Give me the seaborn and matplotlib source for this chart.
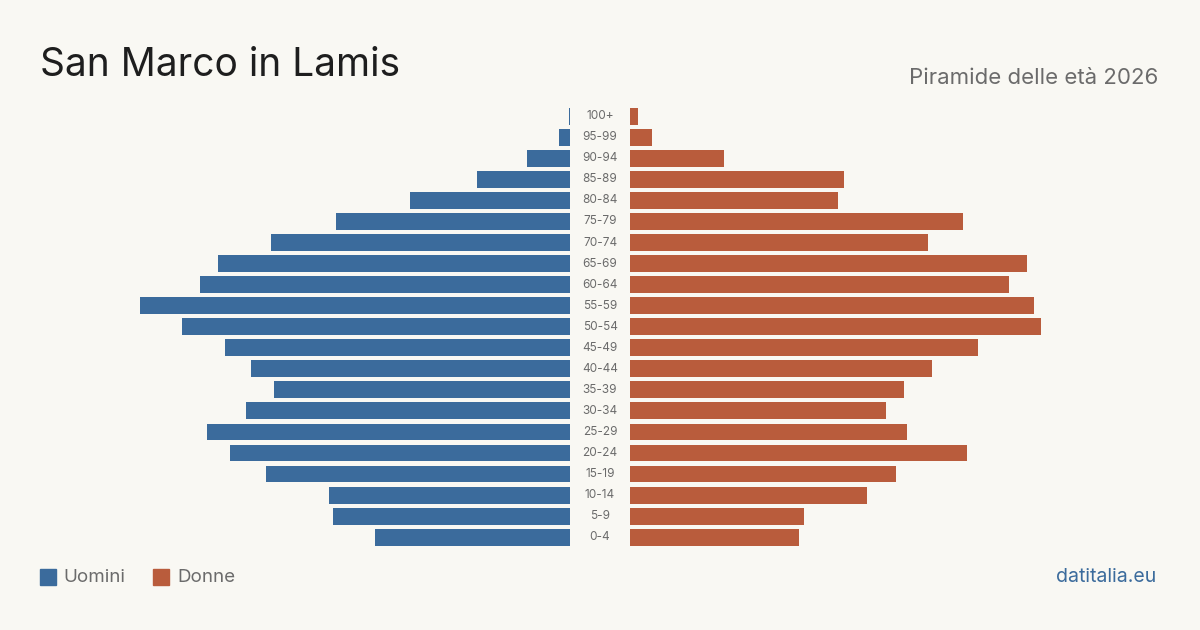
import pandas as pd
import seaborn as sns
import matplotlib.pyplot as plt
from matplotlib.patches import Rectangle

# Dati della piramide (valori stimati dal grafico)
classi = ['100+', '95-99', '90-94', '85-89', '80-84', '75-79', '70-74',
          '65-69', '60-64', '55-59', '50-54', '45-49', '40-44', '35-39',
          '30-34', '25-29', '20-24', '15-19', '10-14', '5-9', '0-4']
uomini = [1, 11, 43, 93, 160, 234, 299, 352, 370, 430, 388, 345, 319, 296,
          324, 363, 340, 304, 241, 237, 195]
donne = [8, 22, 94, 214, 208, 333, 298, 397, 379, 404, 411, 348, 302, 274,
         256, 277, 337, 266, 237, 174, 169]

df = pd.DataFrame({'classe': classi, 'uomini': uomini, 'donne': donne})

sfondo = '#f9f8f3'
blu = '#3b6b9c'
arancio = '#b95c3c'
grigio = '#6b6b6b'

sns.set_theme(style='white')
plt.rcParams['font.family'] = ['Inter', 'DejaVu Sans']

fig = plt.figure(figsize=(12, 6.3), dpi=100, facecolor=sfondo)

# due assi: uomini a sinistra (asse invertito), donne a destra
larg = 440
ax_u = fig.add_axes([(570 - larg) / 1200, 0.1306, larg / 1200, 0.7016])
ax_d = fig.add_axes([630 / 1200, 0.1306, larg / 1200, 0.7016])

sns.barplot(data=df, x='uomini', y='classe', ax=ax_u, color=blu,
            orient='h', width=0.8, saturation=1, linewidth=0)
sns.barplot(data=df, x='donne', y='classe', ax=ax_d, color=arancio,
            orient='h', width=0.8, saturation=1, linewidth=0)

for ax in (ax_u, ax_d):
    ax.set_xlim(0, larg)
    ax.set_facecolor('none')
    ax.set_xlabel('')
    ax.set_ylabel('')
    ax.set_xticks([])
    ax.set_yticks([])
    sns.despine(ax=ax, left=True, bottom=True)
ax_u.invert_xaxis()

# etichette delle classi d'età al centro
for i, c in enumerate(classi):
    ax_d.annotate(c, xy=(0, i), xytext=(-30, 0), textcoords='offset pixels',
                  ha='center', va='center', fontsize=8.5, color=grigio)

# titolo e sottotitolo
fig.text(40 / 1200, 1 - 66 / 630, 'San Marco in Lamis', fontsize=28,
         color='#1e1e1e', ha='left', va='center')
fig.text(1158 / 1200, 1 - 78 / 630, 'Piramide delle età 2026', fontsize=16,
         color=grigio, ha='right', va='center')

# legenda
y_leg = 1 - 577 / 630
fig.patches.append(Rectangle((40 / 1200, y_leg - 8 / 630), 16 / 1200, 16 / 630,
                             transform=fig.transFigure, color=blu))
fig.text(63 / 1200, y_leg, 'Uomini', fontsize=13.5, color=grigio,
         ha='left', va='center')
fig.patches.append(Rectangle((153 / 1200, y_leg - 8 / 630), 16 / 1200, 16 / 630,
                             transform=fig.transFigure, color=arancio))
fig.text(177 / 1200, y_leg, 'Donne', fontsize=13.5, color=grigio,
         ha='left', va='center')

fig.text(1156 / 1200, y_leg, 'datitalia.eu', fontsize=14, color=blu,
         ha='right', va='center')

plt.savefig('out.png', dpi=100, facecolor=sfondo)
